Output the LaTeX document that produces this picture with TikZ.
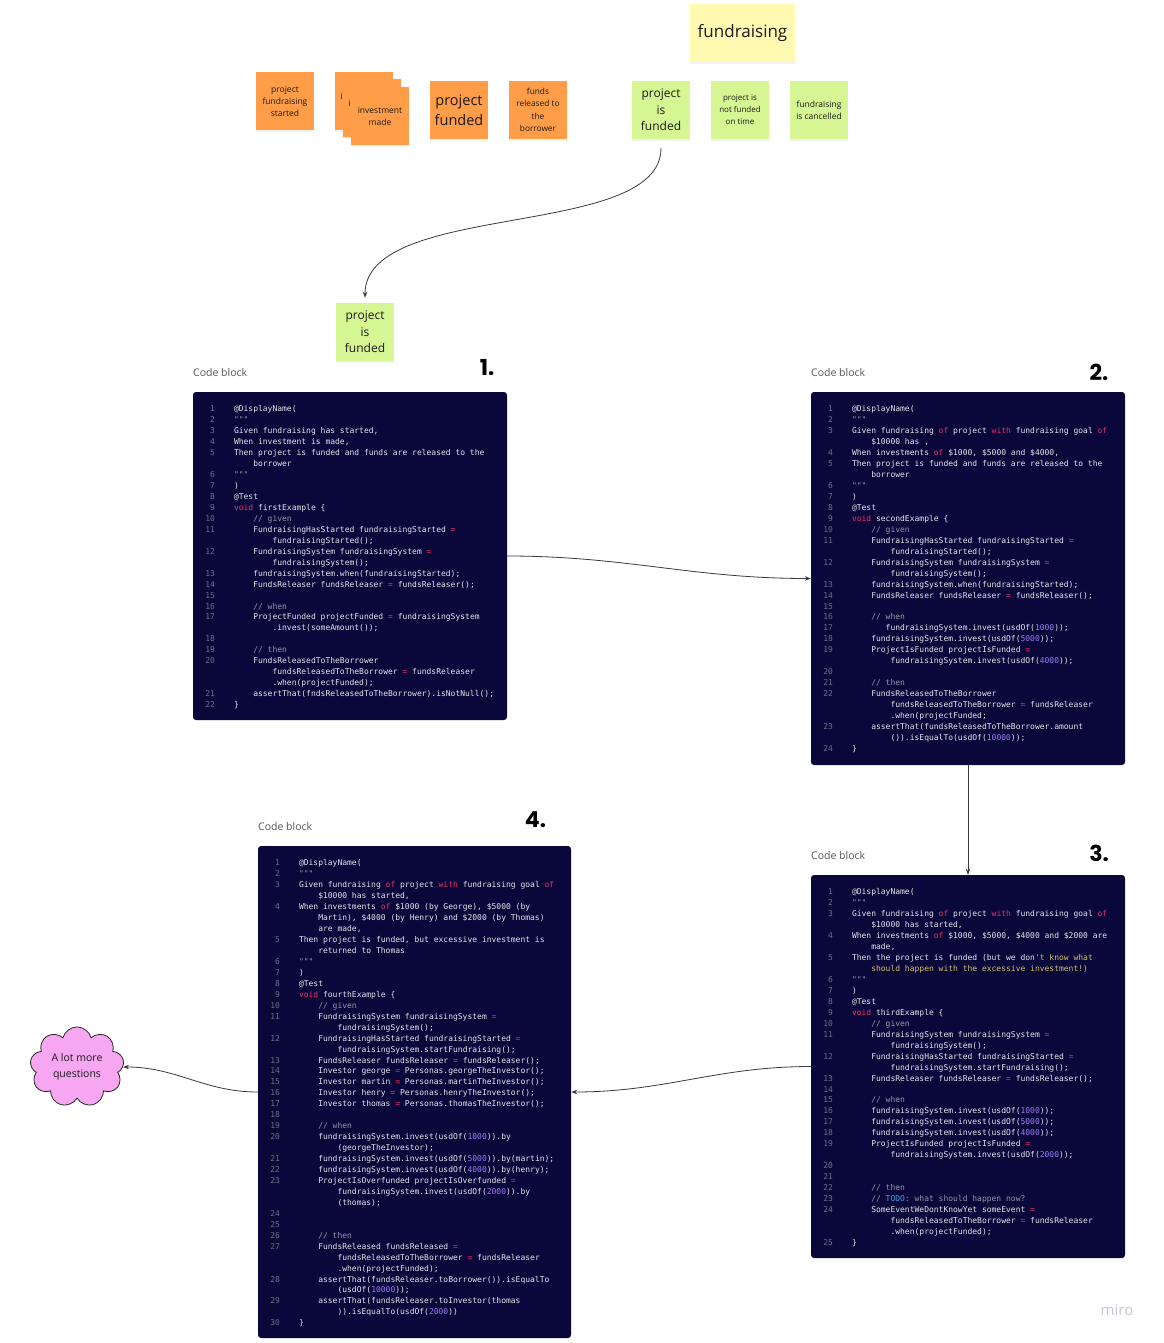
\documentclass[tikz,border=0pt]{standalone}
\usepackage{fontspec}
\setmainfont{Open Sans}
\newfontfamily\codefont{DejaVu Sans Mono}
\newfontfamily\numfont{Poppins}
\usetikzlibrary{arrows.meta,calc,shapes.symbols,shadows}
\definecolor{navy}{HTML}{0A083A}
\definecolor{ctext}{HTML}{E4E4EE}
\definecolor{lnc}{HTML}{6C6C8A}
\definecolor{ckw}{HTML}{E8306A}
\definecolor{cnum}{HTML}{9D7BF5}
\definecolor{ccm}{HTML}{9494AC}
\definecolor{cstr}{HTML}{D2C06A}
\definecolor{ctodo}{HTML}{3AA8E0}
\definecolor{corange}{HTML}{FF9D48}
\definecolor{cyellow}{HTML}{FFF9B1}
\definecolor{cgreen}{HTML}{D5F692}
\definecolor{cpink}{HTML}{F7A6F1}
\definecolor{stxt}{HTML}{1A1A1A}
\definecolor{cline}{HTML}{3A3A3A}
\definecolor{lblc}{HTML}{555555}
\definecolor{miroc}{HTML}{C6C6D6}
\newcommand\ia{\phantom{0000}}
\newcommand\ib{\phantom{00000000}}
\newcommand\ic{\phantom{0000000}}
\newcommand\kw[1]{\textcolor{ckw}{#1}}
\newcommand\eqp{\textcolor{ckw}{=}}
\newcommand\nm[1]{\textcolor{cnum}{#1}}
\newcommand\cm[1]{\textcolor{ccm}{#1}}
\newcommand\ys[1]{\textcolor{cstr}{#1}}
\newcommand\tdo[1]{\textcolor{ctodo}{#1}}
\newcommand\qq{\textcolor{ccm}{"""}}
\newcommand\cln[2]{\makebox[14pt][r]{\textcolor{lnc}{#1}}\hspace{19pt}#2\par}
\newenvironment{codetext}{\begin{minipage}[t]{300pt}\codefont\fontsize{8}{10.95}\selectfont\color{ctext}\parindent0pt\parskip0pt\raggedright}{\end{minipage}}
\tikzset{
  sticky/.style={minimum width=58pt, minimum height=58pt, inner sep=1pt, align=center, text=stxt,
    drop shadow={opacity=0.1, shadow xshift=0pt, shadow yshift=-2pt}},
  ostick/.style={sticky, fill=corange},
  gstick/.style={sticky, fill=cgreen},
  ystick/.style={sticky, fill=cyellow},
  peek/.style={anchor=west, inner sep=0pt, text=stxt, font=\fontsize{8.5}{12}\selectfont},
  codeblk/.style={fill=navy, rounded corners=3pt, inner sep=0pt},
  codetxt/.style={anchor=base west, inner sep=0pt},
  lbl/.style={anchor=west, inner sep=0pt, text=lblc, font=\fontsize{10.5}{12}\selectfont},
  numlbl/.style={inner sep=0pt, text=black, font=\numfont\bfseries\fontsize{22}{22}\selectfont},
  conn/.style={draw=cline, line width=0.8pt, -{Stealth[length=6pt,width=4.5pt]}},
}
\begin{document}
\begin{tikzpicture}[x=1pt,y=-1pt]
\useasboundingbox[fill=white] (0,0) rectangle (1163,1343);

% ---- top stickies ----
\node[ostick, font=\fontsize{8.5}{12}\selectfont] (s1) at (285,101.5) {project\\fundraising\\started};
\node[ostick] (sa) at (364,101.5) {};
\node[peek] (pa) at (340.5,96) {i};
\node[ostick] (sb) at (372,108.5) {};
\node[peek] (pb) at (348.5,103.5) {i};
\node[ostick, font=\fontsize{8.5}{12}\selectfont] (sc) at (380,116) {investment\\made};
\node[ostick, font=\fontsize{14.5}{20}\selectfont] (s3) at (459,110) {project\\funded};
\node[ostick, font=\fontsize{8.3}{12.3}\selectfont] (s4) at (538,110) {funds\\released to\\the\\borrower};

\node[ystick, minimum width=105pt, font=\fontsize{17}{20}\selectfont] (y1) at (742.5,33) {fundraising};
\node[gstick, font=\fontsize{12}{16.5}\selectfont] (g1) at (661,110) {project\\is\\funded};
\node[gstick, font=\fontsize{8}{12}\selectfont] (g2) at (740,110) {project is\\not funded\\on time};
\node[gstick, font=\fontsize{8.5}{12}\selectfont] (g3) at (819,110) {fundraising\\is cancelled};

\node[gstick, font=\fontsize{12}{16.5}\selectfont] (g4) at (365,332) {project\\is\\funded};

\draw[conn, shorten <=9pt, shorten >=5pt] (g1.south) .. controls (661,240) and (365,200) .. (g4.north);

% ---- labels ----
\node[lbl] (l1) at (193,373) {Code block};
\node[lbl] (l2) at (811,373) {Code block};
\node[lbl] (l3) at (811,856) {Code block};
\node[lbl] (l4) at (258,827) {Code block};
\node[numlbl] (n1) at (487,368) {1.};
\node[numlbl] (n2) at (1099,372) {2.};
\node[numlbl] (n3) at (1099,853) {3.};
\node[numlbl] (n4) at (535.5,820) {4.};

% ---- code blocks ----
\node[codeblk, minimum width=314pt, minimum height=328pt] (b1) at (350,556) {};
\node[codeblk, minimum width=314pt, minimum height=373pt] (b2) at (968,578.5) {};
\node[codeblk, minimum width=314pt, minimum height=383pt] (b3) at (968,1066.5) {};
\node[codeblk, minimum width=313pt, minimum height=492pt] (b4) at (414.5,1092) {};

\node[codetxt] (t1) at ($(b1.north west)+(8,14)$) {\begin{codetext}
\cln{1}{@DisplayName(}
\cln{2}{\qq}
\cln{3}{Given fundraising has started,}
\cln{4}{When investment is made,}
\cln{5}{Then project is funded and funds are released to the}
\cln{}{\ia borrower}
\cln{6}{\qq}
\cln{7}{)}
\cln{8}{@Test}
\cln{9}{\kw{void} firstExample \{}
\cln{10}{\ia\cm{// given}}
\cln{11}{\ia FundraisingHasStarted fundraisingStarted \eqp}
\cln{}{\ib fundraisingStarted();}
\cln{12}{\ia FundraisingSystem fundraisingSystem \eqp}
\cln{}{\ib fundraisingSystem();}
\cln{13}{\ia fundraisingSystem.when(fundraisingStarted);}
\cln{14}{\ia FundsReleaser fundsReleaser \eqp{} fundsReleaser();}
\cln{15}{}
\cln{16}{\ia\cm{// when}}
\cln{17}{\ia ProjectFunded projectFunded \eqp{} fundraisingSystem}
\cln{}{\ib .invest(someAmount());}
\cln{18}{}
\cln{19}{\ia\cm{// then}}
\cln{20}{\ia FundsReleasedToTheBorrower}
\cln{}{\ib fundsReleasedToTheBorrower \eqp{} fundsReleaser}
\cln{}{\ib .when(projectFunded);}
\cln{21}{\ia assertThat(fndsReleasedToTheBorrower).isNotNull();}
\cln{22}{\}}
\end{codetext}};

\node[codetxt] (t2) at ($(b2.north west)+(8,14)$) {\begin{codetext}
\cln{1}{@DisplayName(}
\cln{2}{\qq}
\cln{3}{Given fundraising \kw{of} project \kw{with} fundraising goal \kw{of}}
\cln{}{\ia\$10000 has ,}
\cln{4}{When investments \kw{of} \$1000, \$5000 and \$4000,}
\cln{5}{Then project is funded and funds are released to the}
\cln{}{\ia borrower}
\cln{6}{\qq}
\cln{7}{)}
\cln{8}{@Test}
\cln{9}{\kw{void} secondExample \{}
\cln{10}{\ia\cm{// given}}
\cln{11}{\ia FundraisingHasStarted fundraisingStarted \eqp}
\cln{}{\ib fundraisingStarted();}
\cln{12}{\ia FundraisingSystem fundraisingSystem \eqp}
\cln{}{\ib fundraisingSystem();}
\cln{13}{\ia fundraisingSystem.when(fundraisingStarted);}
\cln{14}{\ia FundsReleaser fundsReleaser \eqp{} fundsReleaser();}
\cln{15}{}
\cln{16}{\ia\cm{// when}}
\cln{17}{\ic fundraisingSystem.invest(usdOf(\nm{1000}));}
\cln{18}{\ia fundraisingSystem.invest(usdOf(\nm{5000}));}
\cln{19}{\ia ProjectIsFunded projectIsFunded \eqp}
\cln{}{\ib fundraisingSystem.invest(usdOf(\nm{4000}));}
\cln{20}{}
\cln{21}{\ia\cm{// then}}
\cln{22}{\ia FundsReleasedToTheBorrower}
\cln{}{\ib fundsReleasedToTheBorrower \eqp{} fundsReleaser}
\cln{}{\ib .when(projectFunded;}
\cln{23}{\ia assertThat(fundsReleasedToTheBorrower.amount}
\cln{}{\ib ()).isEqualTo(usdOf(\nm{10000}));}
\cln{24}{\}}
\end{codetext}};

\node[codetxt] (t3) at ($(b3.north west)+(8,14)$) {\begin{codetext}
\cln{1}{@DisplayName(}
\cln{2}{\qq}
\cln{3}{Given fundraising \kw{of} project \kw{with} fundraising goal \kw{of}}
\cln{}{\ia\$10000 has started,}
\cln{4}{When investments \kw{of} \$1000, \$5000, \$4000 and \$2000 are}
\cln{}{\ia made,}
\cln{5}{Then the project is funded (but we don\ys{'t know what}}
\cln{}{\ia\ys{should happen with the excessive investment!)}}
\cln{6}{\qq}
\cln{7}{)}
\cln{8}{@Test}
\cln{9}{\kw{void} thirdExample \{}
\cln{10}{\ia\cm{// given}}
\cln{11}{\ia FundraisingSystem fundraisingSystem \eqp}
\cln{}{\ib fundraisingSystem();}
\cln{12}{\ia FundraisingHasStarted fundraisingStarted \eqp}
\cln{}{\ib fundraisingSystem.startFundraising();}
\cln{13}{\ia FundsReleaser fundsReleaser \eqp{} fundsReleaser();}
\cln{14}{}
\cln{15}{\ia\cm{// when}}
\cln{16}{\ia fundraisingSystem.invest(usdOf(\nm{1000}));}
\cln{17}{\ia fundraisingSystem.invest(usdOf(\nm{5000}));}
\cln{18}{\ia fundraisingSystem.invest(usdOf(\nm{4000}));}
\cln{19}{\ia ProjectIsFunded projectIsFunded \eqp}
\cln{}{\ib fundraisingSystem.invest(usdOf(\nm{2000}));}
\cln{20}{}
\cln{21}{}
\cln{22}{\ia\cm{// then}}
\cln{23}{\ia\cm{// \tdo{TODO}: what should happen now?}}
\cln{24}{\ia SomeEventWeDontKnowYet someEvent \eqp}
\cln{}{\ib fundsReleasedToTheBorrower \eqp{} fundsReleaser}
\cln{}{\ib .when(projectFunded);}
\cln{25}{\}}
\end{codetext}};

\node[codetxt] (t4) at ($(b4.north west)+(8,14)$) {\begin{codetext}
\cln{1}{@DisplayName(}
\cln{2}{\qq}
\cln{3}{Given fundraising \kw{of} project \kw{with} fundraising goal \kw{of}}
\cln{}{\ia\$10000 has started,}
\cln{4}{When investments \kw{of} \$1000 (by George), \$5000 (by}
\cln{}{\ia Martin), \$4000 (by Henry) and \$2000 (by Thomas)}
\cln{}{\ia are made,}
\cln{5}{Then project is funded, but excessive investment is}
\cln{}{\ia returned to Thomas}
\cln{6}{\qq}
\cln{7}{)}
\cln{8}{@Test}
\cln{9}{\kw{void} fourthExample \{}
\cln{10}{\ia\cm{// given}}
\cln{11}{\ia FundraisingSystem fundraisingSystem \eqp}
\cln{}{\ib fundraisingSystem();}
\cln{12}{\ia FundraisingHasStarted fundraisingStarted \eqp}
\cln{}{\ib fundraisingSystem.startFundraising();}
\cln{13}{\ia FundsReleaser fundsReleaser \eqp{} fundsReleaser();}
\cln{14}{\ia Investor george \eqp{} Personas.georgeTheInvestor();}
\cln{15}{\ia Investor martin \eqp{} Personas.martinTheInvestor();}
\cln{16}{\ia Investor henry \eqp{} Personas.henryTheInvestor();}
\cln{17}{\ia Investor thomas \eqp{} Personas.thomasTheInvestor();}
\cln{18}{}
\cln{19}{\ia\cm{// when}}
\cln{20}{\ia fundraisingSystem.invest(usdOf(\nm{1000})).by}
\cln{}{\ib (georgeTheInvestor);}
\cln{21}{\ia fundraisingSystem.invest(usdOf(\nm{5000})).by(martin);}
\cln{22}{\ia fundraisingSystem.invest(usdOf(\nm{4000})).by(henry);}
\cln{23}{\ia ProjectIsOverfunded projectIsOverfunded \eqp}
\cln{}{\ib fundraisingSystem.invest(usdOf(\nm{2000})).by}
\cln{}{\ib (thomas);}
\cln{24}{}
\cln{25}{}
\cln{26}{\ia\cm{// then}}
\cln{27}{\ia FundsReleased fundsReleased \eqp}
\cln{}{\ib fundsReleasedToTheBorrower \eqp{} fundsReleaser}
\cln{}{\ib .when(projectFunded);}
\cln{28}{\ia assertThat(fundsReleaser.toBorrower()).isEqualTo}
\cln{}{\ib (usdOf(\nm{10000}));}
\cln{29}{\ia assertThat(fundsReleaser.toInvestor(thomas}
\cln{}{\ib )).isEqualTo(usdOf(\nm{2000}))}
\cln{30}{\}}
\end{codetext}};

% ---- cloud ----
\node[cloud, cloud puffs=9, aspect=1.3, draw=black!85, fill=cpink, line width=0.8pt,
  minimum width=94pt, minimum height=74pt, align=center, text=stxt,
  font=\fontsize{10.5}{16}\selectfont] (cl) at (77,1067) {A lot more\\questions};

% ---- connectors ----
\draw[conn] (b1.east) to[out=0,in=180] (b2.west);
\draw[conn] (b2.south) -- (b3.north);
\draw[conn] (b3.west) to[out=180,in=0] (b4.east);
\draw[conn] (b4.west) to[out=180,in=0] (cl.east);

% ---- logo ----
\node[text=miroc, font=\fontsize{15}{15}\selectfont] (miro) at (1117,1310) {miro};
\end{tikzpicture}
\end{document}
